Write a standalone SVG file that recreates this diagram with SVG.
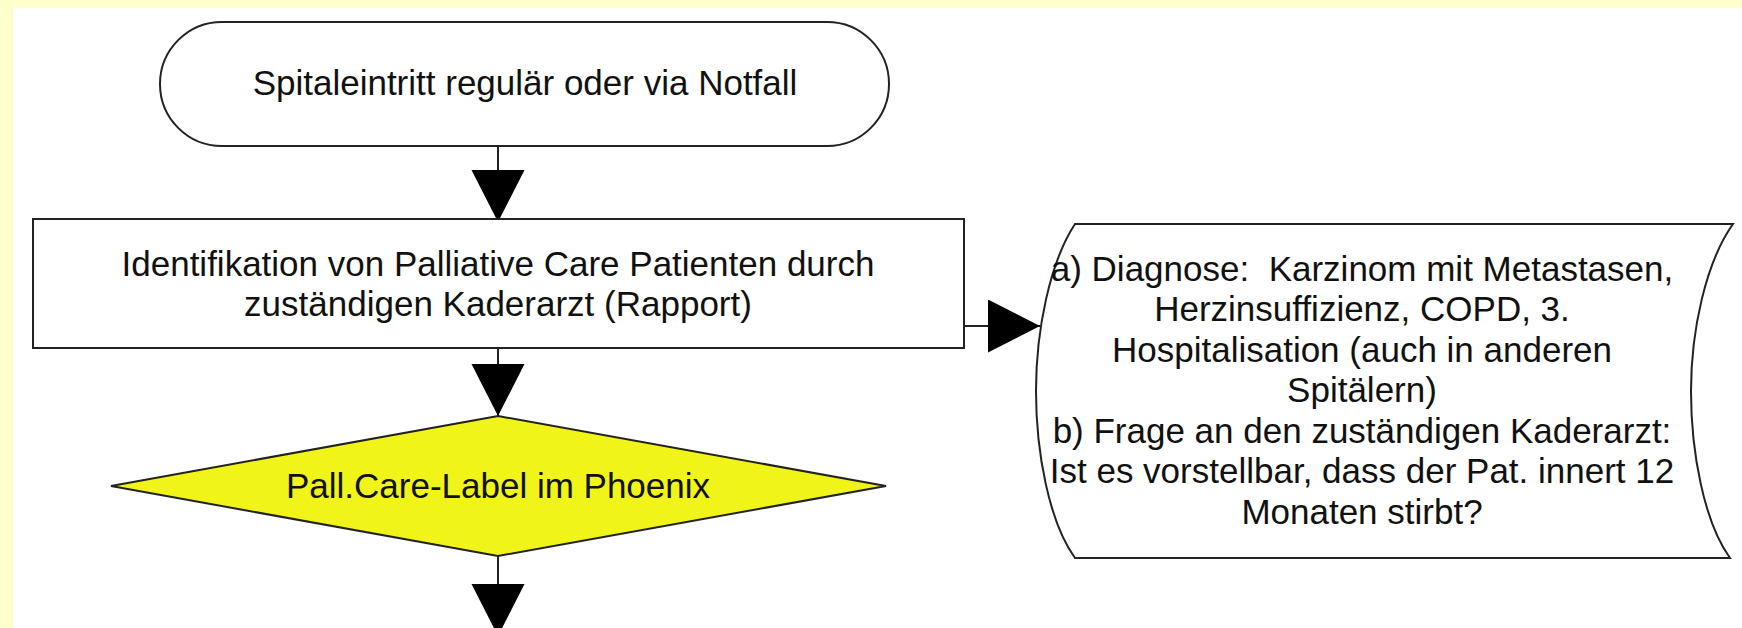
<svg xmlns="http://www.w3.org/2000/svg" width="1742" height="628" viewBox="0 0 1742 628">
  <style>
    .shape { fill: #ffffff; stroke: #222222; stroke-width: 2; }
    .decision { fill: #f0f418; stroke: #222222; stroke-width: 2; }
    .label { font-family: "Liberation Sans", Arial, sans-serif; font-size: 35px; fill: #111111; text-anchor: middle; }
    .conn { stroke: #222222; stroke-width: 2; fill: none; marker-end: url(#arrow); }
  </style>
  <defs>
    <marker id="arrow" markerUnits="userSpaceOnUse" markerWidth="53" markerHeight="54" refX="52" refY="26.5" orient="auto" viewBox="0 0 53 54">
      <path d="M0,0 L52,26.5 L0,53 Z" fill="#000000"/>
    </marker>
  </defs>

  <rect x="0" y="0" width="1742" height="628" fill="#ffffcc"/>
  <rect x="13" y="8" width="1729" height="620" fill="#ffffff"/>

  <g id="connectors">
    <line class="conn" x1="498" y1="146" x2="498" y2="222"/>
    <line class="conn" x1="498" y1="348" x2="498" y2="416"/>
    <line class="conn" x1="498" y1="556" x2="498" y2="636"/>
    <line class="conn" x1="964" y1="326" x2="1040" y2="326"/>
  </g>

  <g id="start">
    <rect class="shape" x="160" y="22" width="729" height="124" rx="62" ry="62"/>
    <text class="label" x="525" y="95">Spitaleintritt regulär oder via Notfall</text>
  </g>

  <g id="identification">
    <rect class="shape" x="33" y="219" width="931" height="129"/>
    <text class="label" x="498" y="276">Identifikation von Palliative Care Patienten durch</text>
    <text class="label" x="498" y="316">zuständigen Kaderarzt (Rapport)</text>
  </g>

  <g id="decision">
    <polygon class="decision" points="498,416 886,486 498,556 111,486"/>
    <text class="label" x="498" y="498">Pall.Care-Label im Phoenix</text>
  </g>

  <g id="criteria">
    <path class="shape" d="M1075,224 L1733,224 C1706,262 1691,330 1691,391 C1691,452 1704,522 1730,558 L1075,558 C1049,522 1036,452 1036,391 C1036,330 1050,262 1075,224 Z"/>
    <text class="label" x="1362" y="281" xml:space="preserve">a) Diagnose:  Karzinom mit Metastasen,</text>
    <text class="label" x="1362" y="321">Herzinsuffizienz, COPD, 3.</text>
    <text class="label" x="1362" y="362">Hospitalisation (auch in anderen</text>
    <text class="label" x="1362" y="402">Spitälern)</text>
    <text class="label" x="1362" y="443">b) Frage an den zuständigen Kaderarzt:</text>
    <text class="label" x="1362" y="483">Ist es vorstellbar, dass der Pat. innert 12</text>
    <text class="label" x="1362" y="524">Monaten stirbt?</text>
  </g>
</svg>
